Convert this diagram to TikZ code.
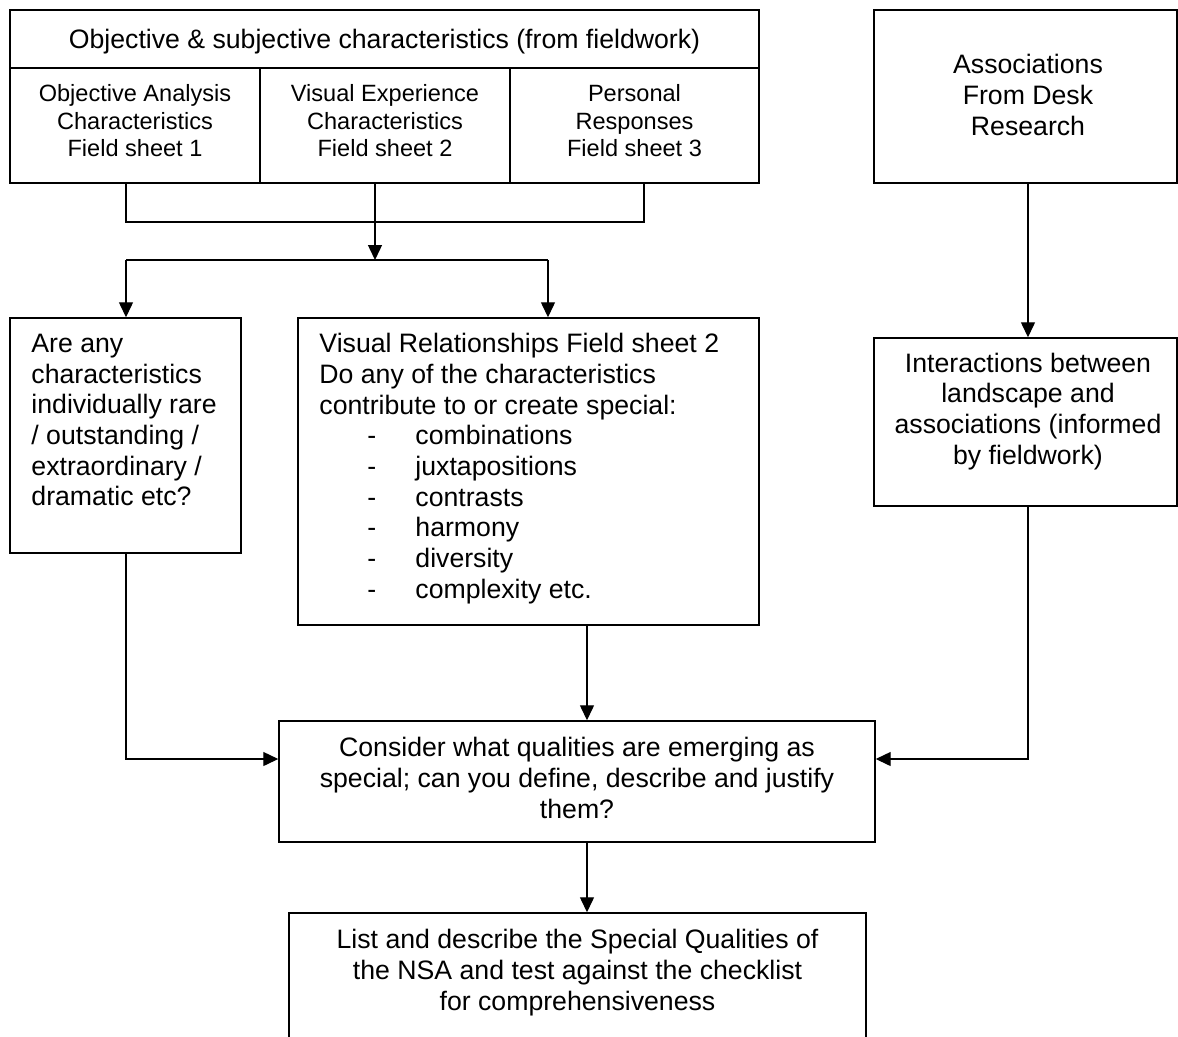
\documentclass[tikz,border=0pt]{standalone}
\usepackage{fontspec}
\setmainfont{Liberation Sans}
\usetikzlibrary{arrows.meta,fit}
\newcommand\dashitem[1]{\hspace*{21.6pt}\makebox[21.6pt][l]{-}#1}
\tikzset{
  box/.style={draw, line width=0.65pt, inner sep=0pt},
  txt/.style={inner sep=0pt, font=\fontsize{12}{13.8}\selectfont},
  ctxt/.style={inner sep=0pt, font=\fontsize{10.6}{12.4}\selectfont},
  conn/.style={line width=0.6pt},
  arr/.style={conn, -{Triangle[length=6.75pt,width=6.3pt]}},
}
\begin{document}
\begin{tikzpicture}[x=0.45pt,y=-0.45pt]
\useasboundingbox (0,0) rectangle (1178,1036);
\clip (0,0) rectangle (1178,1036);
% boxes
\node[box, fit={(10,10) (759,68)}] (hdr) {};
\node[box, fit={(10,68) (260,183)}] (c1) {};
\node[box, fit={(260,68) (510,183)}] (c2) {};
\node[box, fit={(510,68) (759,183)}] (c3) {};
\node[box, fit={(874,10) (1177,183)}] (assoc) {};
\node[box, fit={(10,318) (241,553)}] (left) {};
\node[box, fit={(298,318) (759,625)}] (mid) {};
\node[box, fit={(874,338) (1177,506)}] (inter) {};
\node[box, fit={(279,721) (875,842)}] (cons) {};
\node[box, fit={(289,913) (866,1060)}] (final) {};
% texts (base anchor = baseline of the last line)
\node[txt, anchor=base] (hdrT) at (384.5,48.5) {Objective \& subjective characteristics (from fieldwork)};
\node[ctxt, align=center, anchor=base] (c1T) at (135,156.8) {Objective Analysis\\Characteristics\\Field sheet 1};
\node[ctxt, align=center, anchor=base] (c2T) at (385,156.8) {Visual Experience\\Characteristics\\Field sheet 2};
\node[ctxt, align=center, anchor=base] (c3T) at (634.5,156.8) {Personal\\Responses\\Field sheet 3};
\node[txt, align=center, anchor=base] (assocT) at (1028,135.3) {Associations\\From Desk\\Research};
\node[txt, align=left, anchor=base west] (leftT) at (31,505.8) {Are any\\characteristics\\individually rare\\/ outstanding /\\extraordinary /\\dramatic etc?};
\node[txt, align=left, anchor=base west] (midT) at (319,598.3) {Visual Relationships Field sheet 2\\Do any of the characteristics\\contribute to or create special:\\\dashitem{combinations}\\\dashitem{juxtapositions}\\\dashitem{contrasts}\\\dashitem{harmony}\\\dashitem{diversity}\\\dashitem{complexity etc.}};
\node[txt, align=center, anchor=base] (interT) at (1028,464.3) {Interactions between\\landscape and\\associations (informed\\by fieldwork)};
\node[txt, align=center, anchor=base] (consT) at (577,818.3) {Consider what qualities are emerging as\\special; can you define, describe and justify\\them?};
\node[txt, align=center, anchor=base] (finalT) at (577.5,1010.3) {List and describe the Special Qualities of\\the NSA and test against the checklist\\for comprehensiveness};
% helper coordinates
\coordinate (xA) at (126,0);
\coordinate (xB) at (375,0);
\coordinate (xC) at (644,0);
\coordinate (xD) at (548,0);
\coordinate (xE) at (587,0);
\coordinate (xF) at (1028,0);
\coordinate (h1) at (0,222);
\coordinate (h2) at (0,260);
\coordinate (h3) at (0,759);
% connectors
\draw[conn] (c1.south -| xA) -- (xA |- h1) -- (xC |- h1) -- (c3.south -| xC);
\draw[arr] (c2.south -| xB) -- (xB |- h2);
\draw[conn] (xA |- h2) -- (xD |- h2);
\draw[arr] (xA |- h2) -- (left.north -| xA);
\draw[arr] (xD |- h2) -- (mid.north -| xD);
\draw[arr] (left.south -| xA) -- (xA |- h3) -- (cons.west |- h3);
\draw[arr] (mid.south -| xE) -- (cons.north -| xE);
\draw[arr] (assoc.south -| xF) -- (inter.north -| xF);
\draw[arr] (inter.south -| xF) -- (xF |- h3) -- (cons.east |- h3);
\draw[arr] (cons.south -| xE) -- (final.north -| xE);
\end{tikzpicture}
\end{document}
